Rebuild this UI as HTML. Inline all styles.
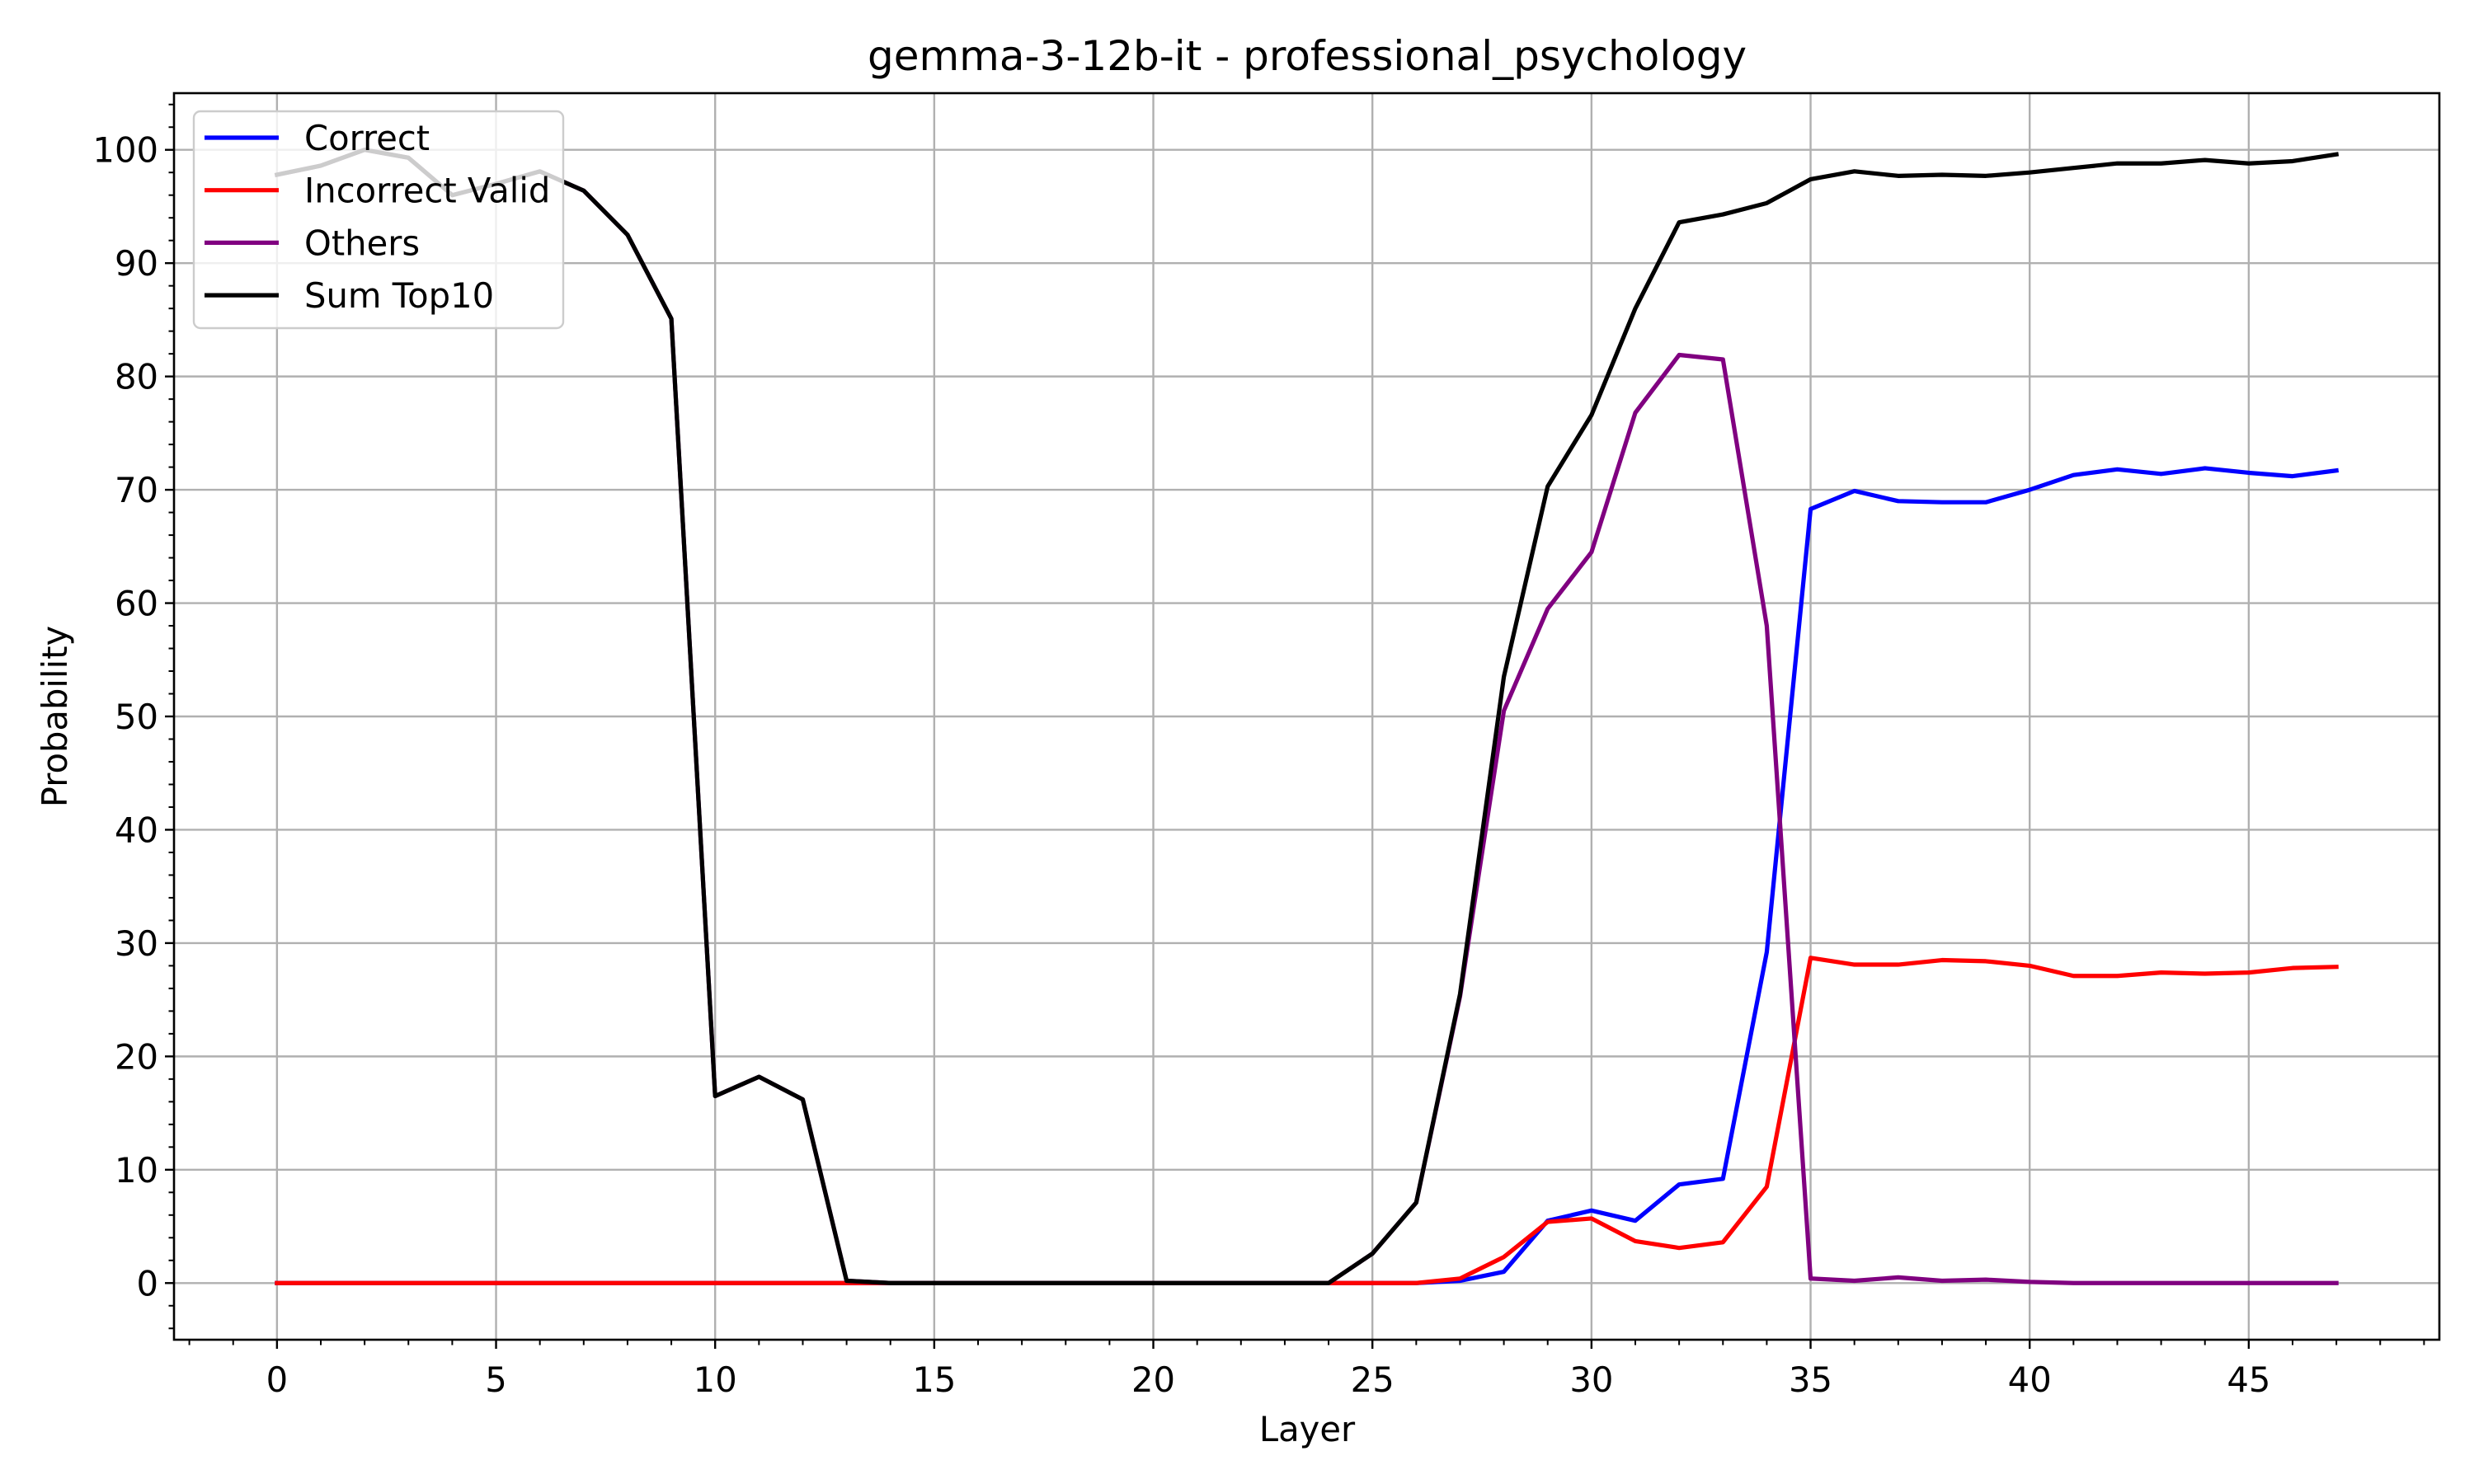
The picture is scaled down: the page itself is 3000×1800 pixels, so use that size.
<!DOCTYPE html>
<html><head><meta charset="utf-8"><style>
html,body{margin:0;padding:0;background:#fff}
svg{display:block;font-family:"DejaVu Sans","Liberation Sans",sans-serif}
</style></head><body>
<svg id="chart" width="3000" height="1800" viewBox="0 0 3000 1800" xmlns="http://www.w3.org/2000/svg">
<rect width="3000" height="1800" fill="#fff"/>
<g id="grid"></g>
<g id="series"></g>
<g id="axes"></g>
<text x="1585" y="85" font-size="50" text-anchor="middle">gemma-3-12b-it - professional_psychology</text>
<text x="1585" y="1748" font-size="41.7" text-anchor="middle">Layer</text>
<text x="81" y="869" font-size="41.7" text-anchor="middle" transform="rotate(-90 81 869)">Probability</text>
<g id="legend"></g>
</svg>
<script>
const layers = Array.from({length:48},(_,i)=>i);
const correct = [0,0,0,0,0,0,0,0,0,0,0,0,0,0,0,0,0,0,0,0,0,0,0,0,0,0,0,0.2,1,5.5,6.4,5.5,8.7,9.2,29.2,68.3,69.9,69,68.9,68.9,70,71.3,71.8,71.4,71.9,71.5,71.2,71.7];
const incorrect = [0,0,0,0,0,0,0,0,0,0,0,0,0,0,0,0,0,0,0,0,0,0,0,0,0,0,0,0.4,2.3,5.4,5.7,3.7,3.1,3.6,8.5,28.7,28.1,28.1,28.5,28.4,28,27.1,27.1,27.4,27.3,27.4,27.8,27.9];
const others = [97.8,98.6,100,99.3,96,97,98.1,96.4,92.5,85.1,16.5,18.2,16.2,0.2,0,0,0,0,0,0,0,0,0,0,0,2.6,7.1,25.3,50.5,59.5,64.5,76.8,81.9,81.5,58,0.4,0.2,0.5,0.2,0.3,0.1,0,0,0,0,0,0,0];
const sumTop10 = [97.8,98.6,100,99.3,96,97,98.1,96.4,92.5,85.1,16.5,18.2,16.2,0.2,0,0,0,0,0,0,0,0,0,0,0,2.6,7.1,25.5,53.5,70.3,76.6,86,93.6,94.3,95.3,97.4,98.1,97.7,97.8,97.7,98,98.4,98.8,98.8,99.1,98.8,99,99.6];
const xTicks = [0,5,10,15,20,25,30,35,40,45];
const yTicks = [0,10,20,30,40,50,60,70,80,90,100];

const L=211,R=2958,T=113,B=1625;
const xmin=-2.35,xmax=49.35,ymin=-5,ymax=105;
const X=v=>L+(v-xmin)/(xmax-xmin)*(R-L);
const Y=v=>B-(v-ymin)/(ymax-ymin)*(B-T);
const NS='http://www.w3.org/2000/svg';
function mk(tag,attrs,parent){const e=document.createElementNS(NS,tag);for(const k in attrs)e.setAttribute(k,attrs[k]);parent.appendChild(e);return e;}
const grid=document.getElementById('grid'),axes=document.getElementById('axes'),series=document.getElementById('series'),legend=document.getElementById('legend');

xTicks.forEach(t=>{
  const g=mk('line',{x1:X(t),x2:X(t),y1:T,y2:B,stroke:'#b0b0b0','stroke-width':2.4},grid);
  
  
  const tk=mk('line',{x1:X(t),x2:X(t),y1:B,y2:B+11,stroke:'#000','stroke-width':2.4},axes);
  
  
  const tx=mk('text',{x:X(t),y:B+63,'font-size':41.7,'text-anchor':'middle'},axes);
  tx.textContent=t;
  
  
});
for(let m=-2;m<=49;m++){ if(m%5===0) continue;
  const tk=mk('line',{x1:X(m),x2:X(m),y1:B,y2:B+6.5,stroke:'#000','stroke-width':2},axes);
  
  
}
yTicks.forEach(t=>{
  const g=mk('line',{x1:L,x2:R,y1:Y(t),y2:Y(t),stroke:'#b0b0b0','stroke-width':2.4},grid);
  
  
  const tk=mk('line',{x1:L-11,x2:L,y1:Y(t),y2:Y(t),stroke:'#000','stroke-width':2.4},axes);
  
  
  const tx=mk('text',{x:L-19,y:Y(t)+15,'font-size':41.7,'text-anchor':'end'},axes);
  tx.textContent=t;
  
  
});
for(let m=-4;m<=104;m+=2){ if(m%10===0) continue;
  const tk=mk('line',{x1:L-6.5,x2:L,y1:Y(m),y2:Y(m),stroke:'#000','stroke-width':2},axes);
  
  
}
const fr=mk('rect',{x:L,y:T,width:R-L,height:B-T,fill:'none',stroke:'#000','stroke-width':2.6},axes);



const defs=[['correct',correct,'#0000ff','Correct'],['incorrect-valid',incorrect,'#ff0000','Incorrect Valid'],['others',others,'#800080','Others'],['sum-top10',sumTop10,'#000000','Sum Top10']];
defs.forEach(([n,d,c])=>{
  const p=mk('polyline',{points:d.map((v,i)=>X(layers[i])+','+Y(v)).join(' '),fill:'none',stroke:c,'stroke-width':5.2,'stroke-linejoin':'round','stroke-linecap':'square'},series);
  
  
});

const lb=mk('rect',{x:235,y:135,width:448,height:263,rx:8,fill:'rgba(255,255,255,0.8)',stroke:'#cccccc','stroke-width':2.4},legend);


defs.forEach(([n,d,c,lab],i)=>{
  const y=167+i*63.7;
  const ln=mk('line',{x1:248,x2:338,y1:y,y2:y,stroke:c,'stroke-width':5.2},legend);
  
  
  const t=mk('text',{x:369,y:y+15,'font-size':41.7},legend);
  t.textContent=lab;
  
  
});
</script>
</body></html>
